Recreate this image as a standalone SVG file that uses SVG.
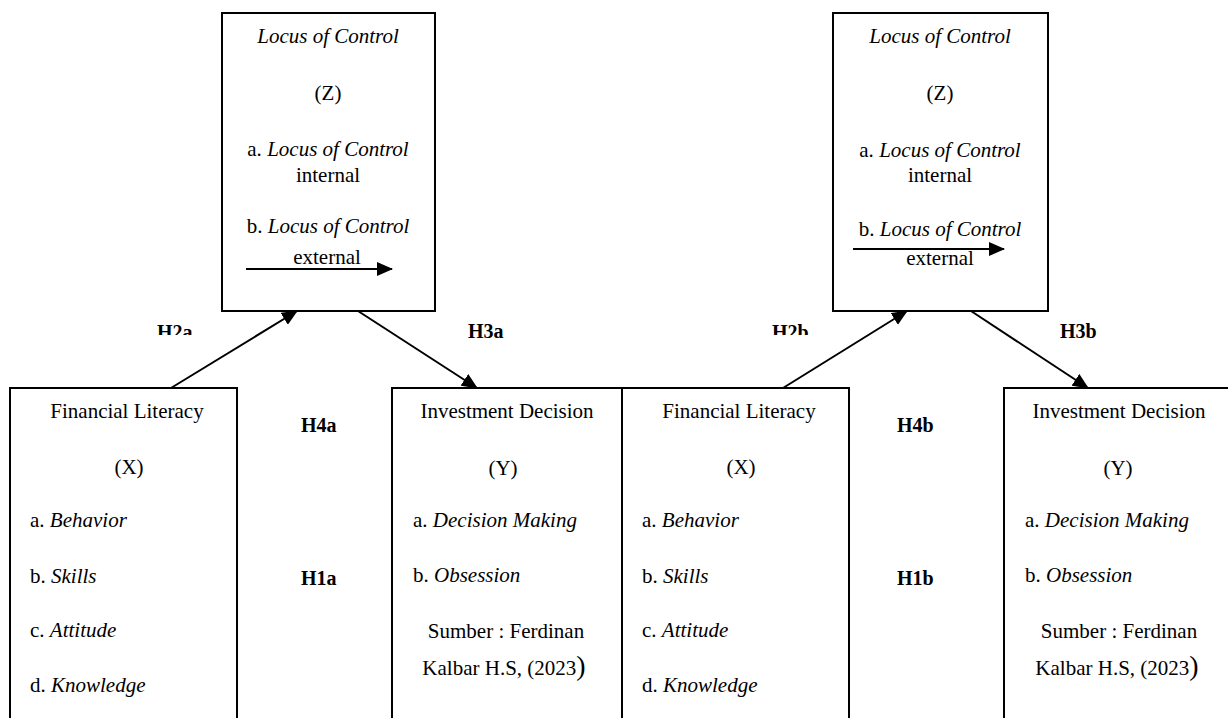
<svg xmlns="http://www.w3.org/2000/svg" width="1228" height="718" viewBox="0 0 1228 718">
<style>
.box{fill:#fff;stroke:#000;stroke-width:2}
.t{font-family:"Liberation Serif","Times New Roman",serif;font-size:21px;fill:#000}
.m{text-anchor:middle}
.i{font-style:italic}
.h{font-family:"Liberation Serif","Times New Roman",serif;font-size:20px;font-weight:bold;fill:#000}
.ln{stroke:#000;stroke-width:2;fill:none}
</style>
<defs>
<marker id="ah" markerWidth="16" markerHeight="14" refX="15" refY="7" orient="auto" markerUnits="userSpaceOnUse">
<path d="M0,0 L16,7 L0,14 Z" fill="#000"/>
</marker>
<clipPath id="clipH"><rect x="0" y="0" width="1228" height="335"/></clipPath>
</defs>
<rect width="1228" height="718" fill="#fff"/>

<g id="locus-a">
<rect class="box" x="222" y="13" width="213" height="298"/>
<text class="t m i" x="328" y="43">Locus of Control</text>
<text class="t m" x="328" y="100">(Z)</text>
<text class="t m" x="328" y="156">a. <tspan class="i">Locus of Control</tspan></text>
<text class="t m" x="328" y="182">internal</text>
<text class="t m" x="328" y="233">b. <tspan class="i">Locus of Control</tspan></text>
<text class="t m" x="327" y="264">external</text>
<line class="ln" x1="246" y1="269" x2="392" y2="269" marker-end="url(#ah)"/>
</g>

<g id="locus-b">
<rect class="box" x="833" y="13" width="215" height="298"/>
<text class="t m i" x="940" y="43">Locus of Control</text>
<text class="t m" x="940" y="100">(Z)</text>
<text class="t m" x="940" y="157">a. <tspan class="i">Locus of Control</tspan></text>
<text class="t m" x="940" y="182">internal</text>
<text class="t m" x="940" y="236">b. <tspan class="i">Locus of Control</tspan></text>
<text class="t m" x="940" y="265">external</text>
<line class="ln" x1="853" y1="249" x2="1004" y2="249" marker-end="url(#ah)"/>
</g>

<g id="fl-a">
<rect class="box" x="10" y="388" width="227" height="340"/>
<text class="t m" x="127" y="418">Financial Literacy</text>
<text class="t m" x="129" y="474">(X)</text>
<text class="t" x="30" y="527">a. <tspan class="i">Behavior</tspan></text>
<text class="t" x="30" y="583">b. <tspan class="i">Skills</tspan></text>
<text class="t" x="30" y="637">c. <tspan class="i">Attitude</tspan></text>
<text class="t" x="30" y="692">d. <tspan class="i">Knowledge</tspan></text>
</g>

<g id="id-a">
<rect class="box" x="392" y="388" width="230" height="340"/>
<text class="t m" x="507" y="418">Investment Decision</text>
<text class="t m" x="503" y="475">(Y)</text>
<text class="t" x="413" y="527">a. <tspan class="i">Decision Making</tspan></text>
<text class="t" x="413" y="582">b. <tspan class="i">Obsession</tspan></text>
<text class="t m" x="506" y="638">Sumber : Ferdinan</text>
<text class="t m" x="504" y="675">Kalbar H.S, (2023<tspan font-size="28">)</tspan></text>
</g>

<g id="fl-b">
<rect class="box" x="622" y="388" width="227" height="340"/>
<text class="t m" x="739" y="418">Financial Literacy</text>
<text class="t m" x="741" y="474">(X)</text>
<text class="t" x="642" y="527">a. <tspan class="i">Behavior</tspan></text>
<text class="t" x="642" y="583">b. <tspan class="i">Skills</tspan></text>
<text class="t" x="642" y="637">c. <tspan class="i">Attitude</tspan></text>
<text class="t" x="642" y="692">d. <tspan class="i">Knowledge</tspan></text>
</g>

<g id="id-b">
<rect class="box" x="1004" y="388" width="230" height="340"/>
<text class="t m" x="1119" y="418">Investment Decision</text>
<text class="t m" x="1118" y="475">(Y)</text>
<text class="t" x="1025" y="527">a. <tspan class="i">Decision Making</tspan></text>
<text class="t" x="1025" y="582">b. <tspan class="i">Obsession</tspan></text>
<text class="t m" x="1119" y="638">Sumber : Ferdinan</text>
<text class="t m" x="1117" y="675">Kalbar H.S, (2023<tspan font-size="28">)</tspan></text>
</g>

<g id="connectors">
<line class="ln" x1="171" y1="388" x2="297" y2="311" marker-end="url(#ah)"/>
<line class="ln" x1="358" y1="311" x2="477" y2="388" marker-end="url(#ah)"/>
<line class="ln" x1="783" y1="388" x2="907" y2="311" marker-end="url(#ah)"/>
<line class="ln" x1="971" y1="311" x2="1088" y2="388" marker-end="url(#ah)"/>
</g>

<g id="labels">
<text class="h" x="157" y="339" clip-path="url(#clipH)">H2a</text>
<text class="h" x="468" y="338">H3a</text>
<text class="h" x="301" y="432">H4a</text>
<text class="h" x="301" y="585">H1a</text>
<text class="h" x="772" y="339" clip-path="url(#clipH)">H2b</text>
<text class="h" x="1060" y="338">H3b</text>
<text class="h" x="897" y="432">H4b</text>
<text class="h" x="897" y="585">H1b</text>
</g>
</svg>
